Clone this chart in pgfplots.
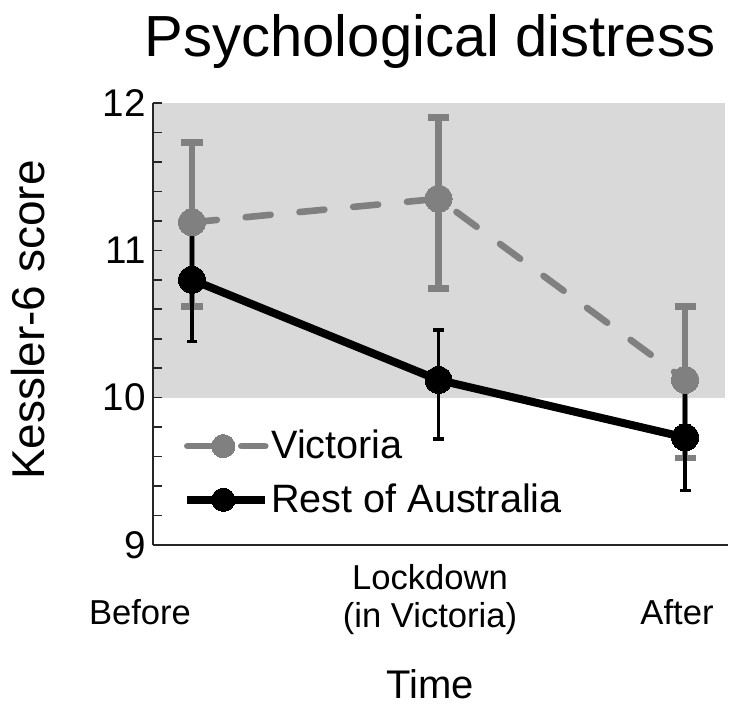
\documentclass[border=0pt]{standalone}
\usepackage{pgfplots}
\pgfplotsset{compat=1.18}
\usepackage{pgfplotstable}
\usepackage{fontspec}
\setmainfont{Liberation Sans}
\definecolor{vic}{HTML}{808080}
\definecolor{band}{HTML}{D9D9D9}
\pgfplotstableread{
x y ep em
0 11.19 0.54 0.57
1 11.35 0.55 0.61
2 10.12 0.50 0.53
}\vicdata
\pgfplotstableread{
x y ep em
0 10.80 0.40 0.42
1 10.12 0.34 0.40
2 9.73 0.35 0.36
}\restdata
\begin{document}
\begin{tikzpicture}
\useasboundingbox (-76.5pt,-79.5pt) rectangle (290pt,272.5pt);
\begin{axis}[
  scale only axis, width=287.5pt, height=221pt,
  xmin=-0.158, xmax=2.174, ymin=9, ymax=12,
  axis x line*=bottom, axis y line*=left,
  axis line style={-, line width=1pt, black!85},
  axis on top,
  xtick=\empty,
  ytick={9,10,11,12}, minor y tick num=4,
  tick align=inside, major tick length=4.5pt, minor tick length=4.5pt,
  every tick/.style={line width=0.8pt, black!85},
  yticklabel style={font=\fontsize{19.3}{21}\selectfont},
  /pgf/number format/assume math mode=true,
  clip=false,
  legend cell align=left,
  legend style={draw=none, fill=none, inner sep=0pt,
    at={(axis description cs:0.052,0.265)}, anchor=north west,
    font=\fontsize{19.8}{22}\selectfont, row sep=9pt,
    nodes={inner sep=1pt}},
  legend image code/.code={\draw[mark repeat=2,mark phase=2,#1,mark size=5.8pt] plot coordinates {(0pt,0pt) (18pt,0pt) (39pt,0pt)};},
]
\fill[band] (axis cs:-0.158,10) rectangle (axis cs:2.16,12);
\addplot[color=vic, line width=3.3pt, dash pattern=on 12.5pt off 14.5pt, line cap=round, line join=round,
  mark=*, mark size=6.75pt, mark options={solid, fill=vic, draw=vic, line width=0pt},
  error bars/.cd, y dir=both, y explicit,
  error bar style={line width=3.3pt, solid, vic, line cap=butt},
  error mark options={rotate=90, mark size=5.3pt, line width=3.3pt, vic, solid}]
  table[x=x, y=y, y error plus=ep, y error minus=em] {\vicdata};
\addlegendentry{Victoria}
\addplot[color=black, line width=4pt, line join=round,
  mark=*, mark size=6.75pt, mark options={solid, fill=black, draw=black, line width=0pt},
  error bars/.cd, y dir=both, y explicit,
  error bar style={line width=1.7pt, solid, black},
  error mark options={rotate=90, mark size=2.7pt, line width=1.7pt, black, solid}]
  table[x=x, y=y, y error plus=ep, y error minus=em] {\restdata};
\addlegendentry{Rest of Australia}
\addplot[color=vic, only marks, mark=*, mark size=6.75pt, mark options={solid, fill=vic, draw=vic, line width=0pt}, forget plot]
  table[x=x, y=y] {\vicdata};
\end{axis}
\node[anchor=base, font=\fontsize{29}{32}\selectfont] at (138.5pt,244pt) {Psychological distress};
\node[rotate=90, anchor=base, font=\fontsize{23}{26}\selectfont] at (-54pt,112.5pt) {Kessler-6 score};
\node[font=\fontsize{17.3}{18.5}\selectfont] at (-6.5pt,-33.5pt) {Before};
\node[font=\fontsize{17.3}{19}\selectfont, align=center] at (138.5pt,-27.5pt) {Lockdown\\(in Victoria)};
\node[font=\fontsize{17.3}{18.5}\selectfont] at (262pt,-33.5pt) {After};
\node[font=\fontsize{20}{22}\selectfont, inner sep=0pt] at (138.5pt,-69.5pt) {Time};
\end{tikzpicture}
\end{document}
